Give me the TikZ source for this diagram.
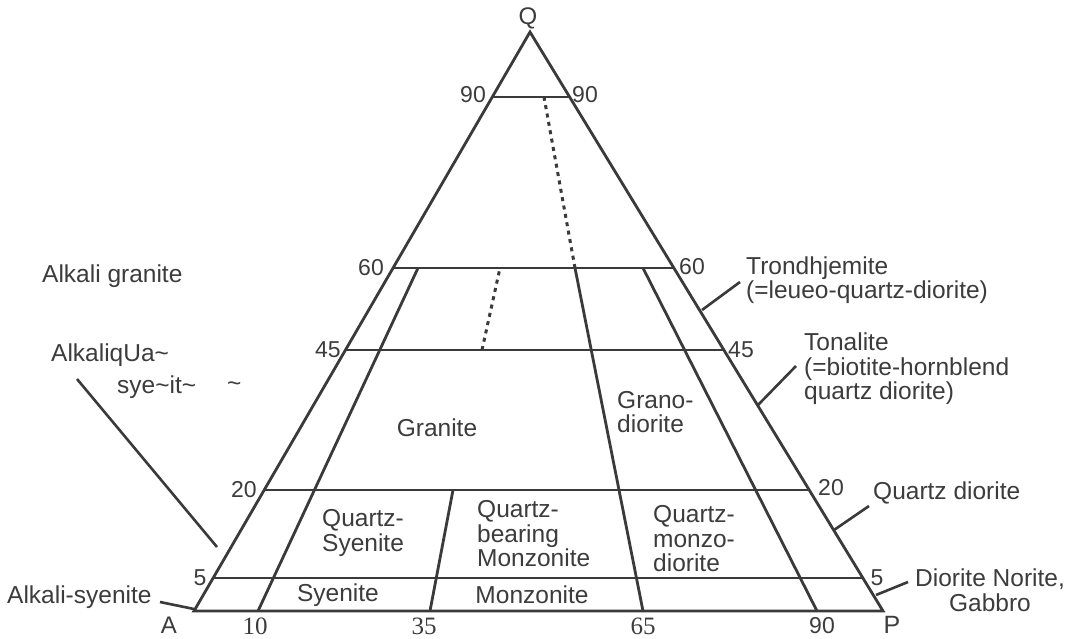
\documentclass[tikz,border=0pt]{standalone}
\usepackage{fontspec}
\setmainfont{Liberation Sans}
\newfontfamily\serifnum{Liberation Serif}
\usetikzlibrary{calc}
\definecolor{linegray}{HTML}{3A3A3A}
\definecolor{textgray}{HTML}{3C3C3C}
\begin{document}
\begin{tikzpicture}[x=1pt,y=-1pt,
  edge/.style={draw=linegray, line width=2.8pt, line join=miter},
  dots/.style={draw=linegray, line width=3pt, dash pattern=on 4pt off 4.5pt},
  lead/.style={draw=linegray, line width=2.6pt},
  lbl/.style={text=textgray, font=\fontsize{24.5}{24.5}\selectfont, inner sep=0pt},
  num/.style={text=textgray, font=\fontsize{23}{23}\selectfont, inner sep=0pt},
  snum/.style={text=textgray, font=\serifnum\fontsize{25}{25}\selectfont, inner sep=0pt}]
\useasboundingbox[fill=white] (0,0) rectangle (1077,638);

% corners
\coordinate (Q) at (530,32);
\coordinate (A) at (194,611);
\coordinate (P) at (883,611);
\draw[edge] (A) -- (Q) -- (P) -- cycle;

% horizontal lines
\foreach \n/\f in {90/0.8877, 60/0.5924, 45/0.4508, 20/0.2090, 5/0.0570}{
  \coordinate (L\n) at ($(A)!\f!(Q)$);
  \coordinate (R\n) at ($(P)!\f!(Q)$);
  \draw[edge] (L\n) -- (R\n);
}

% interior lines
\coordinate (b10) at (258,611);  \coordinate (t10) at (418,268);
\coordinate (b35) at (430,611);  \coordinate (t35) at (453,490);
\coordinate (b65) at (643,611);  \coordinate (t65) at (575,268);
\coordinate (u65) at (544,97);
\coordinate (b90) at (817,611);  \coordinate (t90) at (643,268);
\coordinate (d1) at (482,350);   \coordinate (d2) at (500,268);
\draw[edge] (b10) -- (t10);
\draw[edge] (b35) -- (t35);
\draw[edge] (b65) -- (t65);
\draw[edge] (b90) -- (t90);
\draw[dots] (t65) -- (u65);
\draw[dots] (d1) -- (d2);

% apex / base labels
\node[num] (nQ) at (528,18) {\fontsize{24}{24}\selectfont Q};
\node[num] (nA) at (169,625) {\fontsize{24}{24}\selectfont A};
\node[num] (nP) at (892,625) {\fontsize{25}{25}\selectfont P};
\node[num] (l90) at (473,95) {90};
\node[num] (r90) at (585,95) {90};
\node[num] (l60) at (371,268) {60};
\node[num] (r60) at (692,267) {60};
\node[num] (l45) at (328,350) {45};
\node[num] (r45) at (741,350) {45};
\node[num] (l20) at (244,490) {20};
\node[num] (r20) at (831,488) {20};
\node[num] (l5) at (200,578) {5};
\node[num] (r5) at (877,578) {5};
\node[snum] (b10n) at (255,626) {10};
\node[snum] (b35n) at (424,626) {35};
\node[snum] (b65n) at (643,626) {65};
\node[num] (b90n) at (822,626) {90};

% field labels
\node[lbl] (granite) at (437,428) {Granite};
\node[lbl, anchor=west, align=left] (grano) at (617,412) {Grano-\\diorite};
\node[lbl, anchor=west, align=left] (qsy) at (322,533) {Quartz-\\Syenite};
\node[lbl, anchor=west, align=left] (qbm) at (477,534) {Quartz-\\bearing\\Monzonite};
\node[lbl, anchor=west, align=left] (qmd) at (653,539) {Quartz-\\monzo-\\diorite};
\node[lbl] (sy) at (338,595) {Syenite};
\node[lbl] (mz) at (532,595) {Monzonite};

% outside labels
\node[lbl, anchor=west] (agr) at (42,276) {Alkali granite};
\node[lbl, anchor=west] (aqs1) at (51,355) {AlkaliqUa\textasciitilde};
\node[lbl, anchor=west] (aqs2) at (117,387) {sye\textasciitilde it\textasciitilde};
\node[lbl, anchor=west] (aqs3) at (227,387) {\textasciitilde};
\node[lbl, anchor=west] (asy) at (7,597) {Alkali-syenite};
\node[lbl, anchor=west, align=left] (tro) at (746,280) {Trondhjemite\\(=leueo-quartz-diorite)};
\node[lbl, anchor=west, align=left] (ton) at (804,369) {Tonalite\\(=biotite-hornblend\\quartz diorite)};
\node[lbl, anchor=west] (qd) at (873,493) {Quartz diorite};
\node[lbl, align=center] (dng) at (990,590) {Diorite Norite,\\Gabbro};

% leaders
\coordinate (ka) at (77,379);   \coordinate (kb) at (217,547);
\coordinate (sa) at (160,602);  \coordinate (sb) at (194,609);
\coordinate (ta) at (740,282);  \coordinate (tb) at (702,310);
\coordinate (oa) at (796,366);  \coordinate (ob) at (758,405);
\coordinate (qa) at (869,506);  \coordinate (qb) at (834,530);
\coordinate (ga) at (908,582);  \coordinate (gb) at (876,595);
\draw[lead] (ka) -- (kb);
\draw[lead] (sa) -- (sb);
\draw[lead] (ta) -- (tb);
\draw[lead] (oa) -- (ob);
\draw[lead] (qa) -- (qb);
\draw[lead] (ga) -- (gb);
\end{tikzpicture}
\end{document}
